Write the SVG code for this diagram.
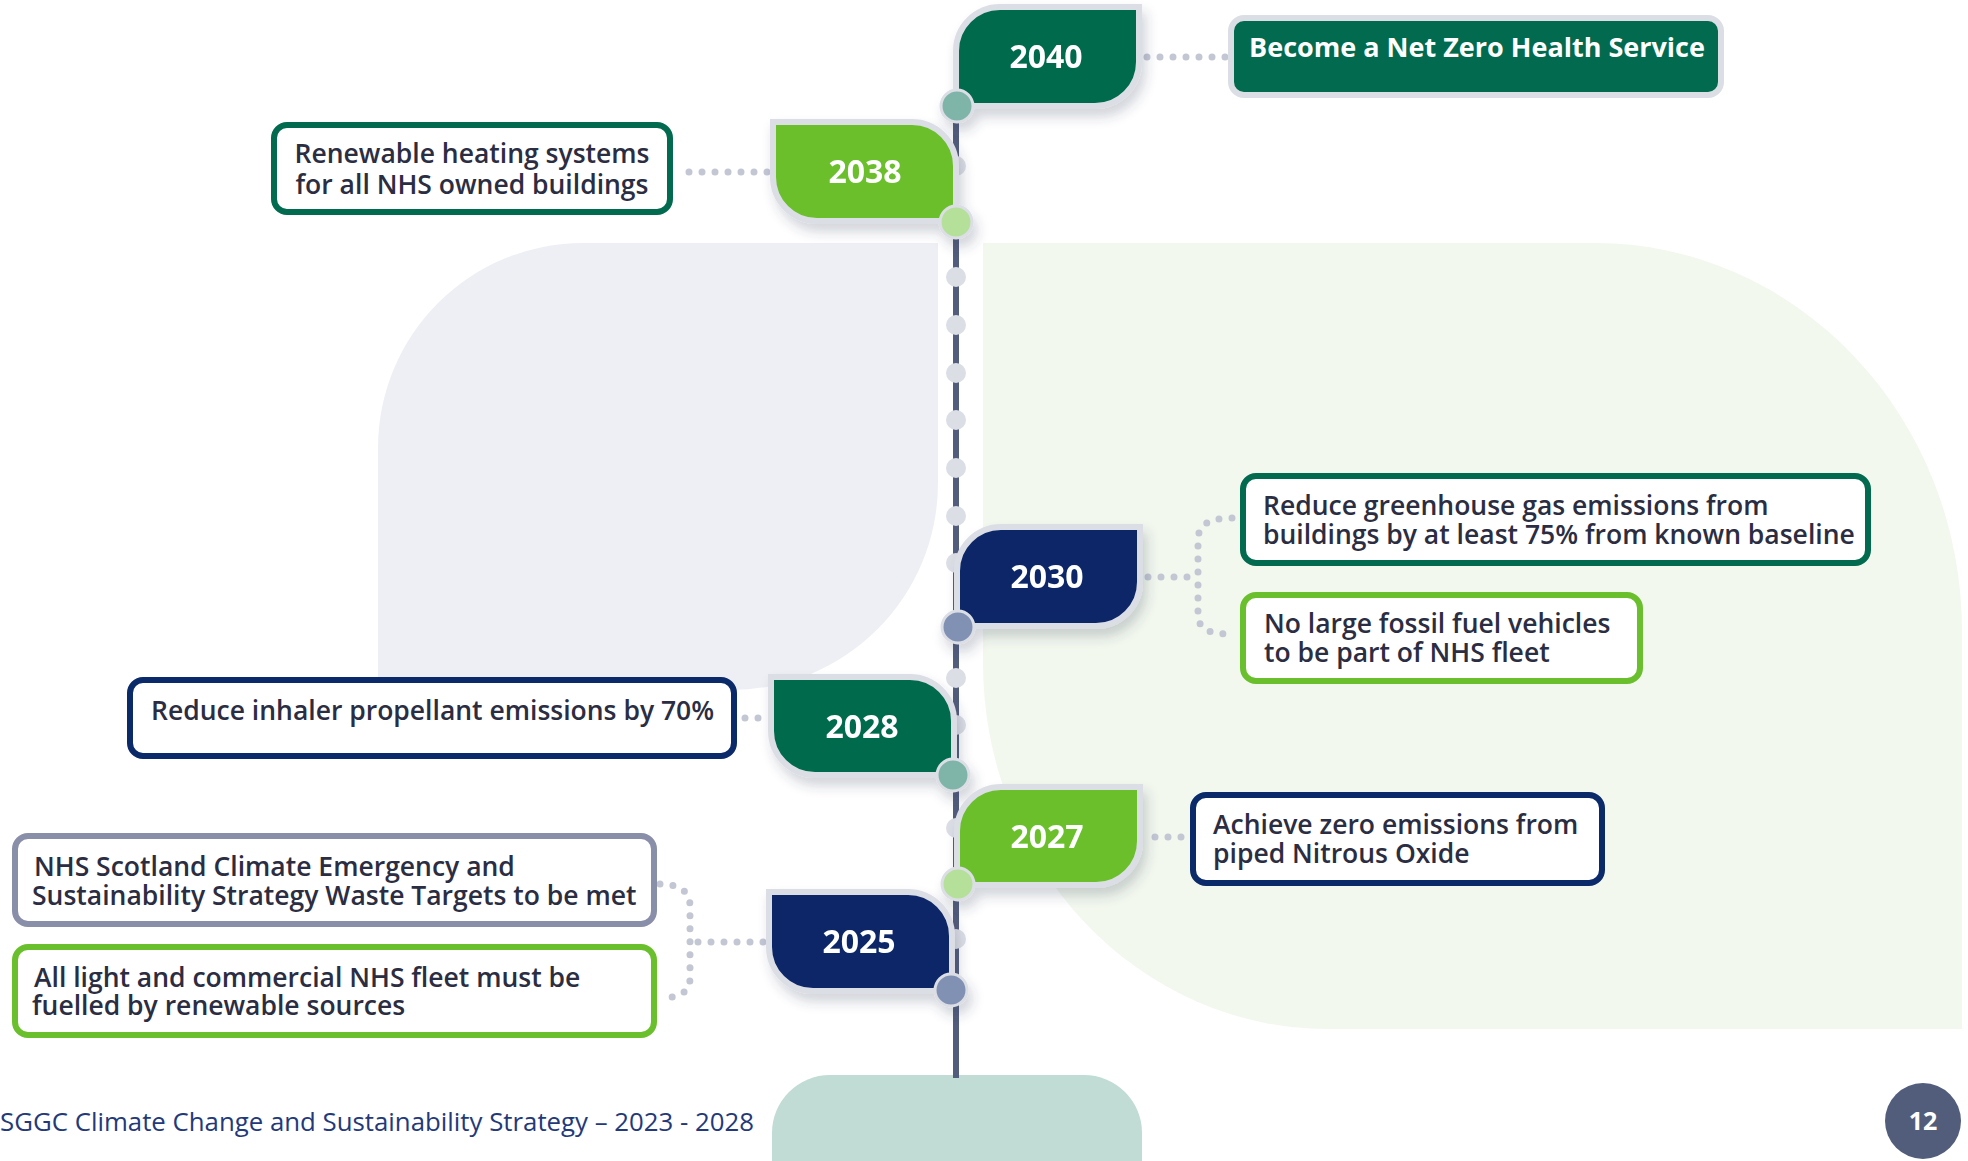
<svg xmlns="http://www.w3.org/2000/svg" width="1968" height="1161" viewBox="0 0 1968 1161">
<defs>
<style>
.bodytxt{font-family:"Open Sans","Noto Sans","Liberation Sans",sans-serif;font-weight:600;font-size:26.5px;fill:#2b2d42}
.year{font-family:"Open Sans","Noto Sans","Liberation Sans",sans-serif;font-weight:700;font-size:32px;fill:#ffffff;text-anchor:middle}
.tabborder{stroke:#dcdee6;stroke-width:6}
.node-circle{stroke:#dcdee6;stroke-width:3}
.box{fill:#ffffff;stroke-width:6}
.dots{fill:none;stroke:#c3c6d3;stroke-width:7;stroke-linecap:round;stroke-dasharray:0 13}
.tdot{fill:#dcdee6}
</style>
<filter id="sh" x="-20%" y="-20%" width="150%" height="160%">
<feDropShadow dx="4" dy="8" stdDeviation="6" flood-color="#3a3f5a" flood-opacity="0.22"/>
</filter>
</defs>

<g id="background">
<rect x="0" y="0" width="1968" height="1161" fill="#ffffff"/>
<path d="M378,690 V448 A205,205 0 0 1 583,243 H938 V483 A207,207 0 0 1 731,690 Z" fill="#eeeff4"/>
<path d="M983,243 H1595 A367,388 0 0 1 1962,631 V1029 H1328 A345,366 0 0 1 983,663 Z" fill="#f2f8ee"/>
<rect x="772" y="1075" width="370" height="160" rx="58" ry="58" fill="#c0dcd4"/>
</g>

<g id="footer">
<text x="754" y="1131" text-anchor="end" style="font-family:'Open Sans','Noto Sans',sans-serif;font-size:25.8px;fill:#23397a">SGGC Climate Change and Sustainability Strategy – 2023 - 2028</text>
<circle cx="1923" cy="1121" r="38" fill="#525d7c"/>
<text x="1923" y="1130" text-anchor="middle" style="font-family:'Open Sans','Noto Sans',sans-serif;font-weight:700;font-size:25px;fill:#ffffff">12</text>
</g>

<g id="timeline">
<line x1="956" y1="107" x2="956" y2="1078" stroke="#525c7c" stroke-width="6"/>
<circle class="tdot" cx="956" cy="166" r="10"/>
<circle class="tdot" cx="956" cy="277" r="10"/>
<circle class="tdot" cx="956" cy="325" r="10"/>
<circle class="tdot" cx="956" cy="373" r="10"/>
<circle class="tdot" cx="956" cy="420" r="10"/>
<circle class="tdot" cx="956" cy="468" r="10"/>
<circle class="tdot" cx="956" cy="516" r="10"/>
<circle class="tdot" cx="956" cy="563" r="10"/>
<circle class="tdot" cx="956" cy="678" r="10"/>
<circle class="tdot" cx="956" cy="725" r="10"/>
<circle class="tdot" cx="956" cy="828" r="10"/>
<circle class="tdot" cx="956" cy="939" r="10"/>
</g>

<g id="connectors">
<path class="dots" d="M1147,57 H1226"/>
<path class="dots" d="M689,172 H770"/>
<path class="dots" d="M1148,577 H1198"/>
<path class="dots" d="M1232,518 C1210,518 1198,524 1198,540 V614 C1198,630 1210,634 1232,634"/>
<path class="dots" d="M745,718 H768"/>
<path class="dots" d="M1155,837 H1188"/>
<path class="dots" d="M698,942 H768"/>
<path class="dots" d="M660,884 C680,884 690,892 690,906 V978 C690,992 680,998 660,998"/>
</g>

<g id="box-netzero">
<rect x="1231" y="18" width="490" height="77" rx="13" fill="#026a4e" stroke="#dcdee6" stroke-width="6"/>
<text x="1477" y="57" text-anchor="middle" style="font-family:'Open Sans','Noto Sans',sans-serif;font-weight:700;font-size:27px;fill:#ffffff">Become a Net Zero Health Service</text>
</g>

<g id="box-renewable">
<rect class="box" x="274" y="125" width="396" height="87" rx="13" stroke="#026a4e"/>
<text class="bodytxt" text-anchor="middle"><tspan x="472" y="163">Renewable heating systems</tspan><tspan x="472" y="194">for all NHS owned buildings</tspan></text>
</g>

<g id="box-greenhouse">
<rect class="box" x="1243" y="476" width="625" height="87" rx="13" stroke="#026a4e"/>
<text class="bodytxt"><tspan x="1263" y="515">Reduce greenhouse gas emissions from</tspan><tspan x="1263" y="544">buildings by at least 75% from known baseline</tspan></text>
</g>

<g id="box-fossil">
<rect class="box" x="1243" y="595" width="397" height="86" rx="13" stroke="#6abf2c"/>
<text class="bodytxt"><tspan x="1264" y="633">No large fossil fuel vehicles</tspan><tspan x="1264" y="662">to be part of NHS fleet</tspan></text>
</g>

<g id="box-inhaler">
<rect class="box" x="130" y="680" width="604" height="76" rx="13" stroke="#0b2a6a"/>
<text class="bodytxt" x="151" y="720">Reduce inhaler propellant emissions by 70%</text>
</g>

<g id="box-nitrous">
<rect class="box" x="1193" y="795" width="409" height="88" rx="13" stroke="#0b2a6a"/>
<text class="bodytxt"><tspan x="1213" y="834">Achieve zero emissions from</tspan><tspan x="1213" y="863">piped Nitrous Oxide</tspan></text>
</g>

<g id="box-waste">
<rect class="box" x="15" y="836" width="639" height="88" rx="13" stroke="#8a8fa9"/>
<text class="bodytxt"><tspan x="34" y="876">NHS Scotland Climate Emergency and</tspan><tspan x="32" y="905">Sustainability Strategy Waste Targets to be met</tspan></text>
</g>

<g id="box-fleet">
<rect class="box" x="15" y="947" width="639" height="88" rx="13" stroke="#6abf2c"/>
<text class="bodytxt"><tspan x="34" y="987">All light and commercial NHS fleet must be</tspan><tspan x="32" y="1015">fuelled by renewable sources</tspan></text>
</g>

<g id="tab-2040" filter="url(#sh)">
<path class="tabborder" d="M1000,7 H1139 V62 A44,44 0 0 1 1095,106 H956 V51 A44,44 0 0 1 1000,7 Z" fill="#026a4e"/>
<circle class="node-circle" cx="957" cy="106" r="16" fill="#7fb5a8"/>
<text class="year" x="1046" y="68">2040</text>
</g>

<g id="tab-2038" filter="url(#sh)">
<path class="tabborder" d="M773,122 H912 A44,44 0 0 1 956,166 V221 H817 A44,44 0 0 1 773,177 Z" fill="#6abf2c"/>
<circle class="node-circle" cx="956" cy="222" r="16" fill="#b5e09a"/>
<text class="year" x="865" y="183">2038</text>
</g>

<g id="tab-2030" filter="url(#sh)">
<path class="tabborder" d="M1001,527 H1140 V582 A44,44 0 0 1 1096,626 H957 V571 A44,44 0 0 1 1001,527 Z" fill="#0b2868"/>
<circle class="node-circle" cx="958" cy="627" r="16" fill="#8191b3"/>
<text class="year" x="1047" y="588">2030</text>
</g>

<g id="tab-2028" filter="url(#sh)">
<path class="tabborder" d="M771,677 H910 A44,44 0 0 1 954,721 V775 H815 A44,44 0 0 1 771,731 Z" fill="#026a4e"/>
<circle class="node-circle" cx="953" cy="775" r="16" fill="#7fb5a8"/>
<text class="year" x="862" y="738">2028</text>
</g>

<g id="tab-2027" filter="url(#sh)">
<path class="tabborder" d="M1001,787 H1140 V841 A44,44 0 0 1 1096,885 H957 V831 A44,44 0 0 1 1001,787 Z" fill="#6abf2c"/>
<circle class="node-circle" cx="958" cy="884" r="16" fill="#b5e09a"/>
<text class="year" x="1047" y="848">2027</text>
</g>

<g id="tab-2025" filter="url(#sh)">
<path class="tabborder" d="M769,892 H908 A44,44 0 0 1 952,936 V991 H813 A44,44 0 0 1 769,947 Z" fill="#0b2868"/>
<circle class="node-circle" cx="951" cy="990" r="16" fill="#8191b3"/>
<text class="year" x="859" y="953">2025</text>
</g>
</svg>
